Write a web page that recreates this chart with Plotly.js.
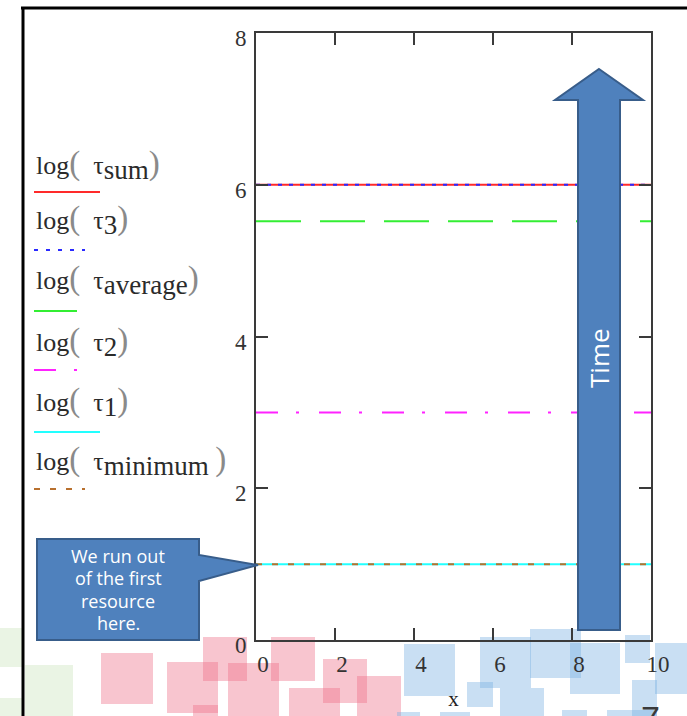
<!DOCTYPE html>
<html>
<head>
<meta charset="utf-8">
<script src="https://cdn.plot.ly/plotly-3.0.1.min.js"></script>
<style>html,body{margin:0;padding:0;background:#fff;}#chart{width:687px;height:716px;}</style>
</head>
<body>
<div id="chart"></div>
<script>
// ---- data ----
const xVals = [0, 10];
const logTauSum = [6.0, 6.0];
const logTau3 = [6.0, 6.0];
const logTauAverage = [5.52, 5.52];
const logTau2 = [3.0, 3.0];
const logTau1 = [1.0, 1.0];
const logTauMinimum = [1.0, 1.0];
const xTickVals = [0, 2, 4, 6, 8, 10];
const yTickVals = [0, 2, 4, 6, 8];
const seriesSubs = ['sum', '3', 'average', '2', '1', 'minimum'];
const xTitle = 'x';
const calloutLines = ['We run out', 'of the first', 'resource', 'here.'];
const arrowText = 'Time';
const pageNumber = '7';

// ---- geometry helpers (pixel -> paper) ----
const L = 256, R = 651, T = 33, B = 640;
const W = 687, H = 716;
const px = x => (x - L) / (R - L);
const py = y => (B - y) / (B - T);
function pathOf(pts) {
  return 'M' + pts.map(p => px(p[0]).toFixed(5) + ',' + py(p[1]).toFixed(5)).join(' L') + ' Z';
}

const serif = 'Liberation Serif, Times New Roman, serif';
const cols = {
  sum: '#ff2a2a', t3: '#2a2aff', avg: '#33ee33', t2: '#ff22ff', t1: '#22ffff', min: '#b8702e'
};

const traces = [
  {x: xVals, y: logTauSum, mode: 'lines', name: 'log(τsum)', line: {color: cols.sum, width: 2}},
  {x: xVals, y: logTau3, mode: 'lines', name: 'log(τ3)', line: {color: cols.t3, width: 2, dash: '4px,7px'}},
  {x: xVals, y: logTauAverage, mode: 'lines', name: 'log(τaverage)', line: {color: cols.avg, width: 2, dash: '45px,19px'}},
  {x: xVals, y: logTau2, mode: 'lines', name: 'log(τ2)', line: {color: cols.t2, width: 2, dash: '22px,18px,3px,20px'}},
  {x: xVals, y: logTau1, mode: 'lines', name: 'log(τ1)', line: {color: cols.t1, width: 2}},
  {x: xVals, y: logTauMinimum, mode: 'lines', name: 'log(τminimum)', line: {color: cols.min, width: 2, dash: '6px,10px'}}
];

const shapes = [];
const annotations = [];

// decorative squares
const pink = 'rgba(238,110,135,0.4)', blue = 'rgba(120,175,225,0.4)', green = 'rgba(160,205,130,0.22)';
const squares = [
  [0, 628, 22, 667, green], [0, 698, 22, 716, green], [25, 665, 73, 716, green],
  [101, 653, 153, 704, pink], [167, 662, 218, 713, pink], [203, 637, 247, 681, pink],
  [193, 705, 218, 716, pink], [228, 663, 279, 716, pink], [271, 637, 315, 681, pink],
  [289, 688, 340, 716, pink], [323, 659, 367, 703, pink], [357, 676, 401, 716, pink],
  [404, 644, 455, 696, blue], [467, 682, 493, 707, blue], [397, 712, 420, 716, blue],
  [440, 712, 470, 716, blue], [480, 637, 531, 688, blue], [500, 688, 544, 716, blue],
  [530, 629, 581, 678, blue], [570, 643, 620, 694, blue], [625, 635, 650, 663, blue],
  [655, 643, 687, 694, blue], [632, 680, 657, 716, blue], [562, 710, 587, 716, blue],
  [607, 710, 657, 716, blue]
];
squares.forEach(s => shapes.push({
  type: 'rect', xref: 'paper', yref: 'paper', layer: 'below',
  x0: px(s[0]), x1: px(s[2]), y0: py(s[3]), y1: py(s[1]),
  fillcolor: s[4], line: {width: 0}
}));

// slide frame
shapes.push({type: 'line', xref: 'paper', yref: 'paper', x0: px(21), x1: px(W), y0: py(8), y1: py(8), line: {color: '#000', width: 3}});
shapes.push({type: 'line', xref: 'paper', yref: 'paper', x0: px(23), x1: px(23), y0: py(7), y1: py(H), line: {color: '#000', width: 3}});

// legend-like labels and samples
const legendRows = [
  {sub: seriesSubs[0], ty: 165, ly: 192, x1: 100, color: cols.sum, dash: 'solid', sp: ''},
  {sub: seriesSubs[1], ty: 220, ly: 250, x1: 85, color: cols.t3, dash: '4px,8px', sp: ''},
  {sub: seriesSubs[2], ty: 280, ly: 311, x1: 77, color: cols.avg, dash: 'solid', sp: ''},
  {sub: seriesSubs[3], ty: 342, ly: 370, x1: 77, color: cols.t2, dash: '22px,18px,3px', sp: ''},
  {sub: seriesSubs[4], ty: 402, ly: 432, x1: 100, color: cols.t1, dash: 'solid', sp: ''},
  {sub: seriesSubs[5], ty: 461, ly: 489, x1: 85, color: cols.min, dash: '6px,10px', sp: ' '}
];
const paren = c => '<span style="color:#8a8a8a;font-size:33px">' + c + '</span>';
legendRows.forEach(r => {
  annotations.push({
    xref: 'paper', yref: 'paper', x: px(34), y: py(r.ty), xanchor: 'left', yanchor: 'middle',
    showarrow: false,
    text: 'log' + paren('(') + '  τ<sub><span style="font-size:27px">' + r.sub + '</span></sub>' + r.sp + paren(')'),
    font: {family: serif, size: 26, color: '#2b2b2b'}
  });
  shapes.push({type: 'line', xref: 'paper', yref: 'paper', x0: px(34), x1: px(r.x1), y0: py(r.ly), y1: py(r.ly),
    line: {color: r.color, width: 2, dash: r.dash}});
});

// callout
shapes.push({
  type: 'path', xref: 'paper', yref: 'paper', layer: 'above',
  path: pathOf([[37, 539], [199, 539], [199, 555], [258, 565], [199, 581], [199, 640], [37, 640]]),
  fillcolor: '#4f81bd', line: {color: '#385d8a', width: 2}
});
calloutLines.forEach((t, i) => annotations.push({
  xref: 'paper', yref: 'paper', x: px(118), y: py(556 + i * 22.4), xanchor: 'center', yanchor: 'middle',
  showarrow: false, text: t,
  font: {family: 'Open Sans, sans-serif', size: 18, color: '#ffffff'}
}));

// Time arrow
shapes.push({
  type: 'path', xref: 'paper', yref: 'paper', layer: 'above',
  path: pathOf([[599, 69], [643, 100], [620, 100], [620, 630], [578, 630], [578, 100], [555, 100]]),
  fillcolor: '#4f81bd', line: {color: '#385d8a', width: 2}
});
annotations.push({
  xref: 'paper', yref: 'paper', x: px(599), y: py(358), xanchor: 'center', yanchor: 'middle',
  showarrow: false, text: arrowText, textangle: -90,
  font: {family: 'Open Sans, sans-serif', size: 26, color: '#ffffff'}
});

// page number
annotations.push({
  xref: 'paper', yref: 'paper', x: px(650), y: py(697), xanchor: 'center', yanchor: 'top',
  showarrow: false, text: pageNumber,
  font: {family: 'Liberation Sans, Arial, sans-serif', size: 34, color: '#3a3a3a'}
});

const axisCommon = {
  showgrid: false, zeroline: false, showline: true, linecolor: '#3a3a3a', linewidth: 2,
  mirror: 'ticks', ticks: 'inside', ticklen: 12, tickwidth: 2, tickcolor: '#3a3a3a',
  tickfont: {family: serif, size: 23, color: '#333'}, fixedrange: true
};

const layout = {
  width: W, height: H,
  margin: {l: L, r: W - R, t: T, b: H - B, pad: 0},
  paper_bgcolor: '#ffffff', plot_bgcolor: 'rgba(0,0,0,0)',
  showlegend: false,
  xaxis: Object.assign({}, axisCommon, {
    range: [0, 10], tickvals: xTickVals, ticktext: xTickVals.map(String),
    ticklabelstandoff: 2, ticklabelshift: 7,
    title: {text: xTitle, standoff: 16, font: {family: serif, size: 21, color: '#222'}},
    automargin: false
  }),
  yaxis: Object.assign({}, axisCommon, {
    range: [0, 8], tickvals: yTickVals, ticktext: yTickVals.map(String),
    ticklabelstandoff: 3, ticklabelshift: 5, automargin: false
  }),
  shapes: shapes,
  annotations: annotations
};

Plotly.newPlot('chart', traces, layout, {displayModeBar: false, staticPlot: true});
</script>
</body>
</html>
